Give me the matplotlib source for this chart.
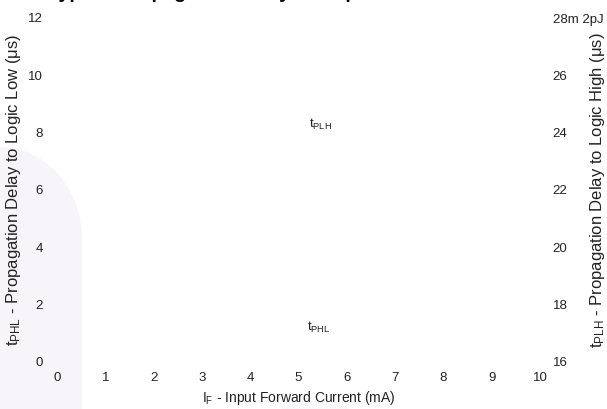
import matplotlib
matplotlib.use('Agg')
import matplotlib.pyplot as plt
from matplotlib.patches import Polygon, Circle
import numpy as np

plt.rcParams['font.family'] = ['Liberation Sans', 'DejaVu Sans']
plt.rcParams['mathtext.default'] = 'regular'

# axis ranges and ticks
x_ticks = [0, 1, 2, 3, 4, 5, 6, 7, 8, 9, 10]
phl_ticks = [0, 2, 4, 6, 8, 10, 12]
plh_ticks = [16, 18, 20, 22, 24, 26, 28]
plh_labels = ['16', '18', '20', '22', '24', '26', '28m 2pJ']

# curve labels (x in mA, y on the left scale)
curve_names = [r'$t_{PLH}$', r'$t_{PHL}$']
curve_label_x = [5.22, 5.18]
curve_label_y = [8.3, 1.2]

W, H = 607, 410
fig = plt.figure(figsize=(W / 100, H / 100), dpi=100)

# faint background shapes (figure pixel coords, origin top-left)
theta = np.linspace(0, np.pi / 2, 40)
arc = [(82 * np.cos(t), 240 - 92 * np.sin(t)) for t in theta]
pts = [(0, H)] + [(82, H)] + arc + [(0, 148)]
pts = [(px / W, 1 - py / H) for px, py in pts]
fig.patches.append(Polygon(pts, closed=True, transform=fig.transFigure,
                           facecolor='#f7f5f9', edgecolor='none', zorder=-5))
fig.patches.append(Circle((315 / W, 1 - 445 / H), 62 / W, transform=fig.transFigure,
                          facecolor='#f9f8fb', edgecolor='none', zorder=-5))

ax = fig.add_axes([57 / W, 1 - 362 / H, (540 - 57) / W, (362 - 18) / H])
ax.patch.set_alpha(0)
ax.set_xlim(0, 10)
ax.set_ylim(0, 12)
ax.set_xticks(x_ticks)
ax.set_yticks(phl_ticks)
for s in ax.spines.values():
    s.set_visible(False)
ax.tick_params(axis='x', length=0, pad=7, labelsize=9.5, colors='#222222')
ax.tick_params(axis='y', length=0, pad=10, labelsize=9.5, colors='#222222')
ax.set_xlabel(r'$I_F$ - Input Forward Current (mA)', fontsize=10, color='#222222', labelpad=4)
ax.set_ylabel(r'$t_{PHL}$ - Propagation Delay to Logic Low ($\mu$s)', fontsize=12,
              color='#222222')
ax.yaxis.set_label_coords((23 - 57) / 483, 0.5)

ax2 = ax.twinx()
ax2.patch.set_alpha(0)
ax2.set_ylim(16, 28)
ax2.set_yticks(plh_ticks)
ax2.set_yticklabels(plh_labels)
for s in ax2.spines.values():
    s.set_visible(False)
ax2.tick_params(axis='y', length=0, pad=9, labelsize=9.5, colors='#222222')
ax2.set_ylabel(r'$t_{PLH}$ - Propagation Delay to Logic High ($\mu$s)', fontsize=12,
               color='#222222')
ax2.yaxis.set_label_coords((588 - 57) / 483, 0.5)

for name, cx, cy in zip(curve_names, curve_label_x, curve_label_y):
    ax.text(cx, cy, name, fontsize=9.5, color='#222222', ha='left', va='center')

fig.text(48 / W, 1 + 2.5 / H, 'Typical Propagation Delay vs. Input Current',
         fontsize=14, fontweight='bold', ha='left', va='baseline')

fig.savefig('out.png', dpi=100)
